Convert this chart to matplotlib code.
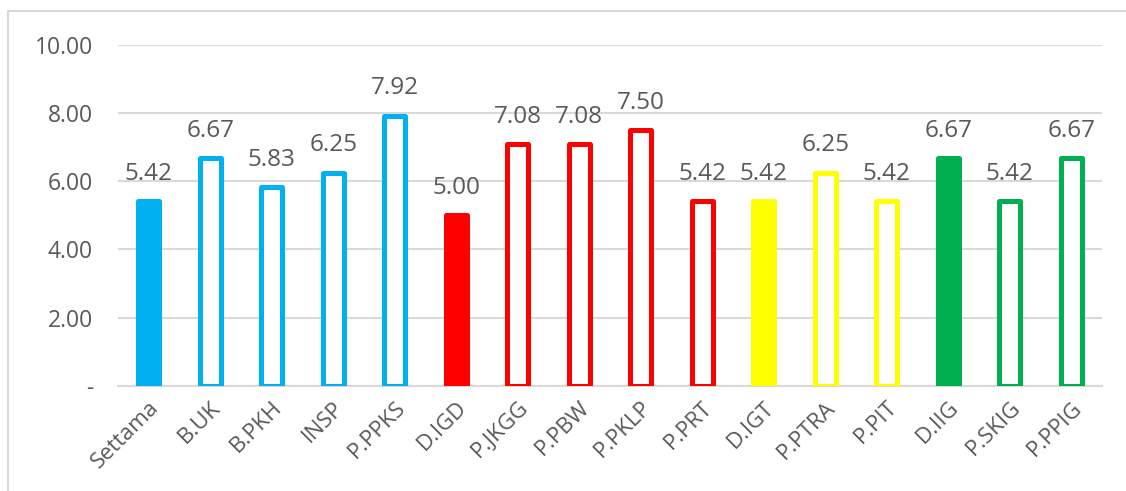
import matplotlib
matplotlib.use("Agg")
import matplotlib.pyplot as plt
from matplotlib.patches import Rectangle

# Scores per unit
categories = ["Settama", "B.UK", "B.PKH", "INSP", "P.PPKS", "D.IGD", "P.JKGG",
              "P.PBW", "P.PKLP", "P.PRT", "D.IGT", "P.PTRA", "P.PIT", "D.IIG",
              "P.SKIG", "P.PPIG"]
values = [5.42, 6.67, 5.83, 6.25, 7.92, 5.00, 7.08, 7.08, 7.50, 5.42, 5.42,
          6.25, 5.42, 6.67, 5.42, 6.67]
# Unit group colour and whether the bar is the group head (solid)
groups = ["blue", "blue", "blue", "blue", "blue", "red", "red", "red", "red",
          "red", "yellow", "yellow", "yellow", "green", "green", "green"]
solid = [True, False, False, False, False, True, False, False, False, False,
         True, False, False, True, False, False]
yticks = [0, 2, 4, 6, 8, 10]
ytick_labels = ["-", "2.00", "4.00", "6.00", "8.00", "10.00"]

palette = {"blue": "#00B0F0", "red": "#FF0000", "yellow": "#FFFF00",
           "green": "#00B050"}
text_color = "#595959"
grid_color = "#D9D9D9"

plt.rcParams["font.family"] = ["Open Sans", "DejaVu Sans"]

fig = plt.figure(figsize=(11.26, 4.91), dpi=100)
fig.patch.set_facecolor("white")

# Chart-area frame
fig.patches.append(Rectangle((8 / 1126, -0.1), 1.2, 1 - 10.5 / 491 + 0.1,
                             transform=fig.transFigure, facecolor="none",
                             edgecolor=grid_color, linewidth=1.5))

ax = fig.add_axes([118 / 1126, 105 / 491, (1102 - 118) / 1126, 341.5 / 491])
x = list(range(len(categories)))
colors = [palette[g] for g in groups]
faces = [c if s else "white" for c, s in zip(colors, solid)]

bars = ax.bar(x, values, width=0.34, color=faces, edgecolor=colors,
              linewidth=3.6, zorder=3)
for b in bars:
    b.set_joinstyle("round")

for xi, v in zip(x, values):
    ax.annotate(f"{v:.2f}", (xi, v), xytext=(0, 11), textcoords="offset points",
                ha="center", va="bottom", fontsize=17.5, color=text_color)

ax.set_xlim(-0.5, len(categories) - 0.5)
ax.set_ylim(0, 10)
ax.set_yticks(yticks)
ax.set_yticklabels(ytick_labels)
ax.yaxis.grid(True, color=grid_color, linewidth=1.5, zorder=0)
ax.set_axisbelow(True)

ax.set_xticks(x)
ax.set_xticklabels(categories, rotation=45, ha="right", va="top",
                   rotation_mode="anchor")
ax.tick_params(axis="x", length=0, pad=8, labelsize=16, labelcolor=text_color)
ax.tick_params(axis="y", length=0, pad=18, labelsize=16.5, labelcolor=text_color)

for s in ("top", "right", "left"):
    ax.spines[s].set_visible(False)
ax.spines["bottom"].set_color(grid_color)
ax.spines["bottom"].set_linewidth(1.5)
ax.set_facecolor("none")

fig.savefig("out.png", dpi=100, facecolor="white")
